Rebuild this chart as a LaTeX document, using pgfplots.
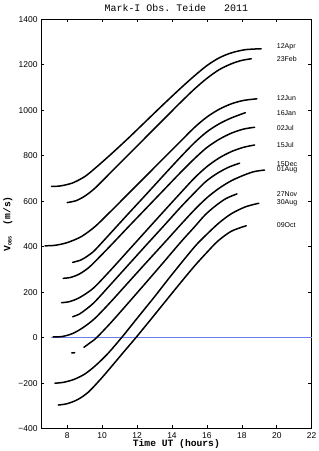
\documentclass[border=0pt]{standalone}
\usepackage{fontspec}
\setmainfont{Liberation Sans}
\setmonofont{Liberation Mono}
\usepackage{pgfplots}
\pgfplotsset{compat=1.18}
\usetikzlibrary{calc}
\definecolor{zeroblue}{RGB}{105,125,235}
\pgfplotsset{curve/.style={black, line width=1.5bp, smooth, no markers, line cap=round}}
\begin{document}
\begin{tikzpicture}
\begin{axis}[
  name=ax,
  scale only axis, width=270.7bp, height=409.5bp,
  xmin=6.5, xmax=22, ymin=-400, ymax=1400,
  xtick={8,10,12,14,16,18,20,22}, xticklabels={8,10,12,14,16,18,20,22},
  ytick={-400,-200,0,200,400,600,800,1000,1200,1400},
  yticklabels={−400,−200,0,200,400,600,800,1000,1200,1400},
  tick align=inside, major tick length=3.3bp,
  tick style={black, line width=0.6bp},
  axis line style={line width=0.8bp},
  ticklabel style={font=\fontsize{8.5}{10}\selectfont},
  clip=false,
]
\addplot[zeroblue, line width=0.8bp, sharp plot, no markers] coordinates {(7.1,0) (22,0)};
% 12Apr
\addplot[curve] coordinates {(7.1,665) (7.6,667) (8.3,680) (9.0,708) (9.6,745) (10.5,806) (11.5,877) (12.5,951) (13.5,1025) (14.5,1097) (15.3,1152) (16.0,1196) (16.7,1230) (17.4,1252) (18.2,1266) (19.1,1270)};
% 23Feb
\addplot[curve] coordinates {(8.0,594) (8.5,602) (9.0,622) (9.586,657) (10.5,727) (11.5,804) (12.5,881) (13.5,958) (14.5,1035) (15.3,1094) (16.0,1140) (16.7,1178) (17.4,1204) (18.0,1219) (18.54,1226)};
% 12Jun
\addplot[curve] coordinates {(6.73,404) (7.3,406) (8.0,418) (8.8,444) (9.586,488) (10.5,556) (11.5,633) (12.5,710) (13.5,787) (14.5,864) (15.3,925) (16.0,970) (16.7,1004) (17.4,1028) (18.1,1043) (18.86,1050)};
% 16Jan
\addplot[curve] coordinates {(8.31,331) (8.8,342) (9.2,361) (9.586,385) (10.5,461) (11.5,545) (12.5,628) (13.5,712) (14.5,795) (15.3,858) (16.0,905) (16.7,940) (17.4,966) (18.2,989)};
% 02Jul
\addplot[curve] coordinates {(7.77,261) (8.2,265) (8.7,280) (9.2,306) (9.586,334) (10.5,406) (11.5,487) (12.5,567) (13.5,647) (14.5,727) (15.3,788) (16.0,836) (16.7,872) (17.4,899) (18.1,917) (18.73,925)};
% 15Jul
\addplot[curve] coordinates {(7.68,154) (8.1,158) (8.6,172) (9.1,195) (9.586,224) (10.5,298) (11.5,383) (12.5,468) (13.5,553) (14.5,637) (15.3,703) (16.0,752) (16.7,790) (17.4,818) (18.1,837) (18.73,847)};
% 15Dec
\addplot[curve] coordinates {(8.31,92) (8.7,104) (9.1,126) (9.586,158) (10.5,235) (11.5,320) (12.5,405) (13.5,489) (14.5,574) (15.3,638) (15.9,684) (16.5,718) (17.2,748) (17.87,767)};
% 01Aug
\addplot[curve] coordinates {(7.2,4) (7.7,5) (8.3,18) (8.9,44) (9.586,85) (10.5,158) (11.5,243) (12.5,328) (13.5,412) (14.5,497) (15.3,563) (16.0,615) (16.7,657) (17.4,690) (18.1,714) (18.7,730) (19.3,737)};
% 27Nov
\addplot[curve] coordinates {(8.26,-67) (8.43,-66)};
\addplot[curve] coordinates {(8.96,-42) (9.3,-23) (9.68,0) (10.5,66) (11.5,153) (12.5,241) (13.5,330) (14.5,420) (15.3,488) (15.9,540) (16.5,580) (17.1,612) (17.72,632)};
% 30Aug
\addplot[curve] coordinates {(7.3,-200) (7.8,-196) (8.4,-183) (9.0,-160) (9.6,-124) (10.3,-72) (11.11,0) (12.0,85) (13.0,180) (14.0,278) (15.3,400) (16.0,455) (16.7,505) (17.4,545) (18.2,575) (18.97,591)};
% 09Oct
\addplot[curve] coordinates {(7.49,-296) (8.0,-290) (8.6,-272) (9.2,-240) (9.87,-186) (10.5,-130) (11.2,-66) (11.93,0) (12.7,72) (13.5,148) (14.4,233) (15.3,316) (16.0,375) (16.63,425) (17.4,468) (18.25,492)};
% labels
\begin{scope}[every node/.style={anchor=west, inner sep=0pt, font=\fontsize{7}{8}\selectfont}]
\node at (axis cs:20,1279) {12Apr};
\node at (axis cs:20,1225) {23Feb};
\node at (axis cs:20,1055) {12Jun};
\node at (axis cs:20,986) {16Jan};
\node at (axis cs:20,920) {02Jul};
\node at (axis cs:20,847) {15Jul};
\node at (axis cs:20,764) {15Dec};
\node at (axis cs:20,737) {01Aug};
\node at (axis cs:20,632) {27Nov};
\node at (axis cs:20,591) {30Aug};
\node at (axis cs:20,495) {09Oct};
\end{scope}
\node[font=\ttfamily\fontsize{10}{12}\selectfont, inner sep=0pt] at (rel axis cs:0.5,1.0266) {Mark-I Obs. Teide\ \ \ 2011};
\node[font=\ttfamily\bfseries\fontsize{9.7}{11}\selectfont, inner sep=0pt] at (rel axis cs:0.5,-0.0381) {Time UT (hours)};
\node[rotate=90, font=\ttfamily\bfseries\fontsize{9.7}{11}\selectfont, inner sep=0pt] at (rel axis cs:-0.1219,0.5) {V{\fontsize{5}{6}\selectfont\raisebox{-1.2pt}{OBS}}\ \ (m/s)};
\end{axis}
\pgfresetboundingbox
\path[use as bounding box] ($(ax.south west)+(-41bp,-22.3bp)$) rectangle ($(ax.north east)+(7.3bp,19.2bp)$);
\end{tikzpicture}
\end{document}
